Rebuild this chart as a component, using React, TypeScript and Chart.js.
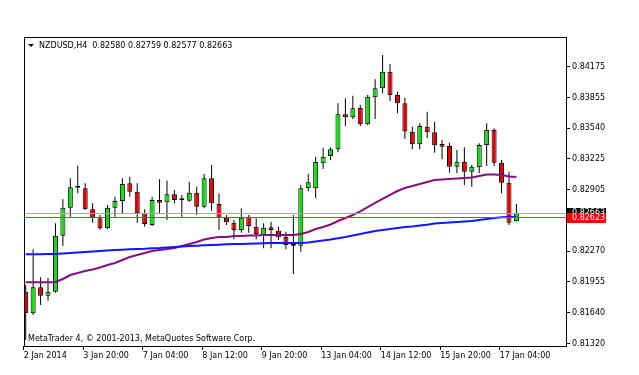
import React, { useEffect, useRef } from "react";
import { Chart, registerables } from "chart.js";

Chart.register(...registerables);

// ---- Data ----
const symbolTitle = "NZDUSD,H4";
const lastBarText = "0.82580 0.82759 0.82577 0.82663";
const copyrightText = "MetaTrader 4, © 2001-2013, MetaQuotes Software Corp.";

const opens = [
  0.81854, 0.81631, 0.81899, 0.81813, 0.81854, 0.82431, 0.82720, 0.82926, 0.82920, 0.82704,
  0.82611, 0.82508, 0.82720, 0.82789, 0.82972, 0.82885, 0.82662, 0.82542, 0.82800, 0.82776,
  0.82858, 0.82800, 0.82792, 0.82875, 0.82730, 0.83023, 0.82758, 0.82617, 0.82565, 0.82490,
  0.82627, 0.82524, 0.82439, 0.82518, 0.82483, 0.82421, 0.82328, 0.82328, 0.82920, 0.82920,
  0.83178, 0.83253, 0.83322, 0.83683, 0.83652, 0.83751, 0.83580, 0.83858, 0.83951, 0.84122,
  0.83882, 0.83797, 0.83504, 0.83374, 0.83555, 0.83498, 0.83377, 0.83356, 0.83143, 0.83194,
  0.83091, 0.83137, 0.83367, 0.83521, 0.83184, 0.82978, 0.82580,
];
const highs = [
  0.81923, 0.82291, 0.82003, 0.81995, 0.82559, 0.82807, 0.83023, 0.83153, 0.82972, 0.82765,
  0.82645, 0.82748, 0.82834, 0.83023, 0.83040, 0.82972, 0.82704, 0.82834, 0.83013, 0.82999,
  0.82903, 0.82851, 0.82988, 0.82937, 0.83068, 0.83160, 0.82869, 0.82645, 0.82593, 0.82714,
  0.82645, 0.82611, 0.82559, 0.82576, 0.82524, 0.82473, 0.82645, 0.82954, 0.83068, 0.83246,
  0.83339, 0.83343, 0.83797, 0.83848, 0.83875, 0.83779, 0.83882, 0.84044, 0.84294, 0.84202,
  0.83916, 0.83853, 0.83555, 0.83590, 0.83710, 0.83607, 0.83418, 0.83390, 0.83315, 0.83343,
  0.83160, 0.83384, 0.83590, 0.83539, 0.83212, 0.83091, 0.82759,
];
const lows = [
  0.81356, 0.81614, 0.81717, 0.81761, 0.81844, 0.82325, 0.82627, 0.82869, 0.82696, 0.82565,
  0.82490, 0.82500, 0.82627, 0.82662, 0.82834, 0.82565, 0.82524, 0.82531, 0.82662, 0.82593,
  0.82766, 0.82627, 0.82782, 0.82645, 0.82714, 0.82689, 0.82490, 0.82542, 0.82394, 0.82462,
  0.82462, 0.82394, 0.82302, 0.82302, 0.82387, 0.82291, 0.82037, 0.82267, 0.82892, 0.82817,
  0.83119, 0.83212, 0.83291, 0.83562, 0.83635, 0.83562, 0.83573, 0.83635, 0.83900, 0.83820,
  0.83693, 0.83428, 0.83322, 0.83322, 0.83436, 0.83287, 0.83219, 0.83081, 0.83075, 0.82954,
  0.82937, 0.83075, 0.83150, 0.83150, 0.82869, 0.82542, 0.82577,
];
const closes = [
  0.81631, 0.81899, 0.81813, 0.81854, 0.82431, 0.82720, 0.82930, 0.82931, 0.82704, 0.82611,
  0.82508, 0.82720, 0.82789, 0.82964, 0.82885, 0.82662, 0.82552, 0.82800, 0.82772, 0.82858,
  0.82800, 0.82797, 0.82875, 0.82730, 0.83023, 0.82766, 0.82617, 0.82570, 0.82490, 0.82617,
  0.82531, 0.82449, 0.82514, 0.82490, 0.82415, 0.82336, 0.82330, 0.82920, 0.82982, 0.83191,
  0.83246, 0.83322, 0.83683, 0.83652, 0.83745, 0.83580, 0.83865, 0.83951, 0.84122, 0.83882,
  0.83797, 0.83506, 0.83374, 0.83562, 0.83498, 0.83363, 0.83349, 0.83143, 0.83194, 0.83091,
  0.83143, 0.83367, 0.83521, 0.83184, 0.82978, 0.82565, 0.82663,
];

// purple moving average
const maPurple = [
  0.81951, 0.81951, 0.81951, 0.81951, 0.81954, 0.81985, 0.82026, 0.82047, 0.82067, 0.82083,
  0.82104, 0.82129, 0.82150, 0.82181, 0.82212, 0.82232, 0.82253, 0.82274, 0.82284, 0.82294,
  0.82305, 0.82325, 0.82346, 0.82366, 0.82392, 0.82408, 0.82418, 0.82418, 0.82428, 0.82428,
  0.82433, 0.82433, 0.82439, 0.82439, 0.82439, 0.82439, 0.82439, 0.82449, 0.82470, 0.82500,
  0.82521, 0.82547, 0.82583, 0.82614, 0.82645, 0.82681, 0.82727, 0.82769, 0.82810, 0.82851,
  0.82892, 0.82923, 0.82944, 0.82964, 0.82985, 0.83006, 0.83011, 0.83016, 0.83021, 0.83026,
  0.83031, 0.83047, 0.83062, 0.83062, 0.83057, 0.83042, 0.83037,
];
// blue moving average
const maBlue = [
  0.82240, 0.82240, 0.82240, 0.82243, 0.82243, 0.82248, 0.82253, 0.82258, 0.82263, 0.82269,
  0.82274, 0.82279, 0.82284, 0.82287, 0.82291, 0.82294, 0.82297, 0.82302, 0.82305, 0.82310,
  0.82315, 0.82320, 0.82325, 0.82328, 0.82332, 0.82336, 0.82339, 0.82343, 0.82346, 0.82346,
  0.82349, 0.82351, 0.82353, 0.82356, 0.82356, 0.82356, 0.82356, 0.82356, 0.82361, 0.82372,
  0.82382, 0.82392, 0.82405, 0.82418, 0.82433, 0.82449, 0.82464, 0.82480, 0.82490, 0.82500,
  0.82511, 0.82521, 0.82526, 0.82537, 0.82545, 0.82557, 0.82562, 0.82568, 0.82573, 0.82578,
  0.82583, 0.82593, 0.82604, 0.82614, 0.82621, 0.82624, 0.82627,
];

const xTickBars = [0, 8, 16, 24, 32, 40, 48, 56, 64];
const xTickLabels = [
  "2 Jan 2014", "3 Jan 20:00", "7 Jan 04:00", "8 Jan 12:00", "9 Jan 20:00",
  "13 Jan 04:00", "14 Jan 12:00", "15 Jan 20:00", "17 Jan 04:00",
];
const yTickValues = [
  0.8132, 0.8164, 0.81955, 0.8227, 0.8259, 0.82905, 0.83225, 0.8354, 0.83855, 0.84175,
];
const bidPrice = 0.82663;
const levelPrice = 0.82623;

const FONT = '8px "DejaVu Sans"';
const BULL = "#0ee00e";
const BEAR = "#e80000";

const mtPlugin = {
  id: "mt4",
  afterDatasetsDraw(chart: any) {
    const { ctx, chartArea: a, scales } = chart;
    const y = scales.y;
    ctx.save();
    ctx.lineWidth = 1;
    const yb = Math.round(y.getPixelForValue(bidPrice)) + 0.5;
    ctx.strokeStyle = "#a3aab2";
    ctx.beginPath();
    ctx.moveTo(a.left, yb);
    ctx.lineTo(a.right, yb);
    ctx.stroke();
    const yr = Math.round(y.getPixelForValue(levelPrice)) + 0.5;
    ctx.strokeStyle = "#ff2a2a";
    ctx.beginPath();
    ctx.moveTo(a.left, yr);
    ctx.lineTo(a.right, yr);
    ctx.stroke();
    ctx.restore();
  },
  afterDraw(chart: any) {
    const { ctx, chartArea: a, scales } = chart;
    const y = scales.y;
    ctx.save();
    // frame
    ctx.strokeStyle = "#000";
    ctx.lineWidth = 1;
    ctx.strokeRect(a.left + 0.5, a.top + 0.5, a.right - a.left, a.bottom - a.top);
    // header
    ctx.fillStyle = "#000";
    ctx.beginPath();
    ctx.moveTo(a.left + 4, a.top + 7);
    ctx.lineTo(a.left + 10, a.top + 7);
    ctx.lineTo(a.left + 7, a.top + 10);
    ctx.closePath();
    ctx.fill();
    ctx.font = FONT;
    ctx.textBaseline = "middle";
    ctx.textAlign = "left";
    ctx.fillText(symbolTitle, a.left + 15, a.top + 9);
    const tw = ctx.measureText(symbolTitle).width;
    ctx.fillText(lastBarText, a.left + 15 + tw + 5, a.top + 9);
    // footer
    ctx.fillText(copyrightText, a.left + 4, a.bottom - 7);
    // price boxes
    const ybp = Math.round(y.getPixelForValue(bidPrice));
    const yrp = Math.round(y.getPixelForValue(levelPrice));
    ctx.fillStyle = "#000";
    ctx.fillRect(a.right + 1, ybp - 5, 39, 10);
    ctx.fillStyle = "#fff";
    ctx.fillText(bidPrice.toFixed(5), a.right + 6, ybp);
    ctx.fillStyle = "#ff0000";
    ctx.fillRect(a.right + 1, yrp - 4, 39, 10);
    ctx.fillStyle = "#fff";
    ctx.fillText(levelPrice.toFixed(5), a.right + 6, yrp + 1);
    ctx.restore();
  },
};

export default function App() {
  const ref = useRef<HTMLCanvasElement | null>(null);

  useEffect(() => {
    document.body.style.margin = "0";
    const canvas = ref.current;
    if (!canvas) return;
    const wickData = highs.map((h, i) => ({ x: i, y: [lows[i], h] }));
    const bodyData = opens.map((o, i) => ({ x: i, y: [o, closes[i]] }));
    const bodyColors = opens.map((o, i) => (closes[i] >= o ? BULL : BEAR));

    const chart = new Chart(canvas, {
      type: "bar",
      data: {
        datasets: [
          {
            type: "line",
            data: maBlue.map((v, i) => ({ x: i, y: v })),
            borderColor: "#1414ff",
            borderWidth: 2,
            pointRadius: 0,
            tension: 0,
            order: 0,
          } as any,
          {
            type: "line",
            data: maPurple.map((v, i) => ({ x: i, y: v })),
            borderColor: "#82107f",
            borderWidth: 2,
            pointRadius: 0,
            tension: 0,
            order: 0,
          } as any,
          {
            type: "bar",
            data: bodyData,
            backgroundColor: bodyColors,
            borderColor: "#000",
            borderWidth: 1,
            borderSkipped: false,
            barThickness: 5,
            minBarLength: 2,
            grouped: false,
            inflateAmount: 0,
            order: 1,
          } as any,
          {
            type: "bar",
            data: wickData,
            backgroundColor: "#000",
            borderWidth: 0,
            barThickness: 1,
            grouped: false,
            inflateAmount: 0,
            order: 2,
          } as any,
        ],
      },
      options: {
        responsive: false,
        animation: false,
        devicePixelRatio: 1,
        events: [],
        layout: { padding: { left: 24, top: 37, right: 0, bottom: 0 }, autoPadding: false } as any,
        plugins: { legend: { display: false }, tooltip: { enabled: false } },
        scales: {
          x: {
            type: "linear",
            position: "bottom",
            min: -0.23,
            max: 72.67,
            offset: false,
            grid: { display: true, drawOnChartArea: false, drawTicks: true, tickLength: 4, color: "#000", offset: false },
            border: { display: false },
            ticks: {
              autoSkip: false,
              maxRotation: 0,
              minRotation: 0,
              align: "start",
              padding: 1,
              color: "#000",
              font: { family: "DejaVu Sans", size: 8 },
              callback: (_v: any, i: number) => xTickLabels[i] ?? "",
            },
            afterBuildTicks: (scale: any) => {
              scale.ticks = xTickBars.map((b) => ({ value: b - 0.25 }));
            },
            afterFit: (scale: any) => {
              scale.height = 29;
            },
          } as any,
          y: {
            type: "linear",
            position: "right",
            min: 0.81294,
            max: 0.8448,
            grid: { display: true, drawOnChartArea: false, drawTicks: true, tickLength: 4, color: "#000" },
            border: { display: false },
            ticks: {
              padding: 2,
              color: "#000",
              font: { family: "DejaVu Sans", size: 8 },
              callback: (v: any) => Number(v).toFixed(5),
            },
            afterBuildTicks: (scale: any) => {
              scale.ticks = yTickValues.map((v) => ({ value: v }));
            },
            afterFit: (scale: any) => {
              scale.width = 73;
            },
          } as any,
        },
      },
      plugins: [mtPlugin],
    });
    return () => chart.destroy();
  }, []);

  return (
    <div style={{ width: 639, height: 375, background: "#fff" }}>
      <canvas ref={ref} width={639} height={375} style={{ display: "block", width: 639, height: 375 }} />
    </div>
  );
}
